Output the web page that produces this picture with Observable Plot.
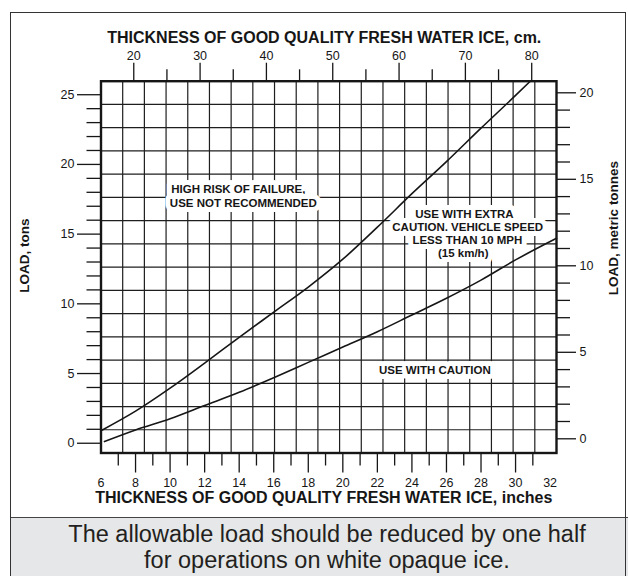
<!DOCTYPE html>
<html><head><meta charset="utf-8">
<script src="https://cdn.jsdelivr.net/npm/d3@7"></script>
<script src="https://cdn.jsdelivr.net/npm/@observablehq/plot@0.6"></script>
<style>
html,body{margin:0;padding:0;background:#fff;}
#wrap{position:relative;width:628px;height:576px;overflow:hidden;font-family:"Liberation Sans",Arial,Helvetica,sans-serif;}
#chart{position:absolute;left:0;top:0;}
#caption{position:absolute;left:10px;top:516.5px;width:620px;height:62px;background:#e6e7e8;border-top:1.5px solid #444;box-sizing:border-box;text-align:center;font-size:23.5px;line-height:26.6px;color:#231f20;padding-top:3px;padding-left:14px;}
#border{position:absolute;left:10px;top:11.5px;width:616px;height:570px;border:1.5px solid #333;box-sizing:border-box;}
</style></head>
<body><div id="wrap"><div id="chart"></div><div id="caption"></div><div id="border"></div></div>
<script>
// ---- data ----
// upper curve (limit of "high risk"), x in inches, y in tons
const upperIn   = [6, 8, 10, 12, 14, 16, 18, 20, 22, 24, 26, 28, 30, 30.85];
const upperTons = [0.9, 2.3, 3.95, 5.75, 7.6, 9.4, 11.2, 13.2, 15.5, 17.9, 20.2, 22.6, 24.95, 25.97];
// lower curve (limit of "use with caution")
const lowerIn   = [6.2, 8, 10, 12, 14, 16, 18, 20, 22, 24, 26, 28, 30, 32.37];
const lowerTons = [0.12, 0.95, 1.75, 2.7, 3.65, 4.7, 5.8, 6.9, 8.0, 9.2, 10.4, 11.7, 13.15, 14.7];

// tick labels
const bottomLabels = [6, 8, 10, 12, 14, 16, 18, 20, 22, 24, 26, 28, 30, 32];
const bottomEven   = [8, 10, 12, 14, 16, 18, 20, 22, 24, 26, 28, 30];
const bottomOdd    = [7, 9, 11, 13, 15, 17, 19, 21, 23, 25, 27, 29, 31];
const topMajorCm   = [20, 30, 40, 50, 60, 70, 80];
const topMinorCm   = [25, 35, 45, 55, 65, 75];
const leftMajor    = [0, 5, 10, 15, 20, 25];
const leftMinor    = [1,2,3,4,6,7,8,9,11,12,13,14,16,17,18,19,21,22,23,24];
const rightMajor   = [0, 5, 10, 15, 20];
const rightMinor   = [1,2,3,4,6,7,8,9,11,12,13,14,16,17,18,19];

// texts
const topTitle    = "THICKNESS OF GOOD QUALITY FRESH WATER ICE, cm.";
const bottomTitle = "THICKNESS OF GOOD QUALITY FRESH WATER ICE, inches";
const leftTitle   = "LOAD, tons";
const rightTitle  = "LOAD, metric tonnes";
const captionLines = ["The allowable load should be reduced by one half", "for operations on white opaque ice."];
const zoneText = ["HIGH RISK OF FAILURE,", "USE NOT RECOMMENDED", "USE WITH EXTRA", "CAUTION, VEHICLE SPEED", "LESS THAN 10 MPH", "(15 km/h)", "USE WITH CAUTION"];
const zoneIn   = [13.95, 14.24, 27.04, 27.23, 27.21, 26.97, 25.33];
const zoneTons = [18.2, 17.18, 16.4, 15.5, 14.54, 13.63, 5.2];

// frame extent and graph-paper grid
const xDomain = [6, 32.37];
const yDomain = [-0.7, 25.97];
const gridCols = 21, gridRows = 16;

// secondary scales as printed on the chart
const cmRef = [20, 80], cmRefIn = [7.897, 30.935];
const cmToIn = c => cmRefIn[0] + (c - cmRef[0]) * (cmRefIn[1] - cmRefIn[0]) / (cmRef[1] - cmRef[0]);
const inToCm = v => cmRef[0] + (v - cmRefIn[0]) * (cmRef[1] - cmRef[0]) / (cmRefIn[1] - cmRefIn[0]);
const tonneRef = [0, 20], tonneRefTons = [0.319, 25.138];
const tonnesToTons = t => tonneRefTons[0] + (t - tonneRef[0]) * (tonneRefTons[1] - tonneRefTons[0]) / (tonneRef[1] - tonneRef[0]);
const tonsToTonnes = v => tonneRef[0] + (v - tonneRefTons[0]) * (tonneRef[1] - tonneRef[0]) / (tonneRefTons[1] - tonneRefTons[0]);

const gridX = d3.range(1, gridCols).map(k => xDomain[0] + k * (xDomain[1] - xDomain[0]) / gridCols);
const gridY = d3.range(1, gridRows).map(k => yDomain[0] + k * (yDomain[1] - yDomain[0]) / gridRows);

const ink = "#161616";
const ax = {label: null, stroke: ink, strokeWidth: 1.3, fill: ink, fontSize: 12.5};
const blank = () => "";

const plot = Plot.plot({
  width: 628, height: 517,
  marginLeft: 100.5, marginRight: 72, marginTop: 80.7, marginBottom: 64.5,
  x: {domain: xDomain, label: null},
  y: {domain: yDomain, label: null},
  style: {fontFamily: "'Liberation Sans', Arial, Helvetica, sans-serif", fontSize: "12.5px", color: ink, background: "transparent", overflow: "visible"},
  marks: [
    Plot.ruleX(gridX, {stroke: "#1e1e1e", strokeWidth: 1.2}),
    Plot.ruleY(gridY, {stroke: "#1e1e1e", strokeWidth: 1.2}),
    Plot.text(zoneText, {x: zoneIn, y: zoneTons, text: d => d, fontSize: 11.5, fontWeight: "bold", fill: ink, stroke: "white", strokeWidth: 10, strokeLinejoin: "round"}),
    Plot.line(upperIn, {x: upperIn, y: upperTons, curve: "monotone-x", stroke: ink, strokeWidth: 1.6}),
    Plot.line(lowerIn, {x: lowerIn, y: lowerTons, curve: "monotone-x", stroke: ink, strokeWidth: 1.6}),
    Plot.frame({stroke: ink, strokeWidth: 2.4}),
    // left axis (tons)
    Plot.axisY(leftMinor, {anchor: "left", tickSize: 14, tickFormat: blank, ...ax}),
    Plot.axisY(leftMajor, {anchor: "left", tickSize: 23.5, tickPadding: 3, ...ax}),
    // right axis (metric tonnes)
    Plot.axisY(rightMinor.map(tonnesToTons), {anchor: "right", tickSize: 13, tickFormat: blank, ...ax}),
    Plot.axisY(rightMajor.map(tonnesToTons), {anchor: "right", tickSize: 19, tickPadding: 4, tickFormat: d => Math.round(tonsToTonnes(d)), ...ax}),
    // top axis (cm)
    Plot.axisX(topMinorCm.map(cmToIn), {anchor: "top", tickSize: 12.4, tickFormat: blank, ...ax}),
    Plot.axisX(topMajorCm.map(cmToIn), {anchor: "top", tickSize: 19, tickPadding: 2, tickFormat: d => Math.round(inToCm(d)), ...ax}),
    // bottom axis (inches)
    Plot.axisX(bottomOdd, {anchor: "bottom", tickSize: 13, tickFormat: blank, ...ax}),
    Plot.axisX(bottomEven, {anchor: "bottom", tickSize: 20, tickFormat: blank, ...ax}),
    Plot.axisX(bottomLabels, {anchor: "bottom", tickSize: 0, tickPadding: 25.2, ...ax}),
    // titles
    Plot.text([topTitle], {text: d => d, frameAnchor: "top", textAnchor: "middle", dx: -4.5, dy: -49.7, fontSize: 16, fontWeight: "bold", fill: ink}),
    Plot.text([bottomTitle], {text: d => d, frameAnchor: "bottom", textAnchor: "middle", dx: -5, dy: 50.3, fontSize: 16, fontWeight: "bold", fill: ink}),
    Plot.text([leftTitle], {text: d => d, frameAnchor: "left", textAnchor: "middle", rotate: -90, dx: -76, dy: -11.6, fontSize: 13.5, fontWeight: "bold", fill: ink}),
    Plot.text([rightTitle], {text: d => d, frameAnchor: "right", textAnchor: "middle", rotate: -90, dx: 57.5, dy: -39.1, fontSize: 13.5, fontWeight: "bold", fill: ink})
  ]
});
document.getElementById("chart").appendChild(plot);
const cap = document.getElementById("caption");
captionLines.forEach(t => { const d = document.createElement("div"); d.textContent = t; cap.appendChild(d); });
</script>
</body></html>
